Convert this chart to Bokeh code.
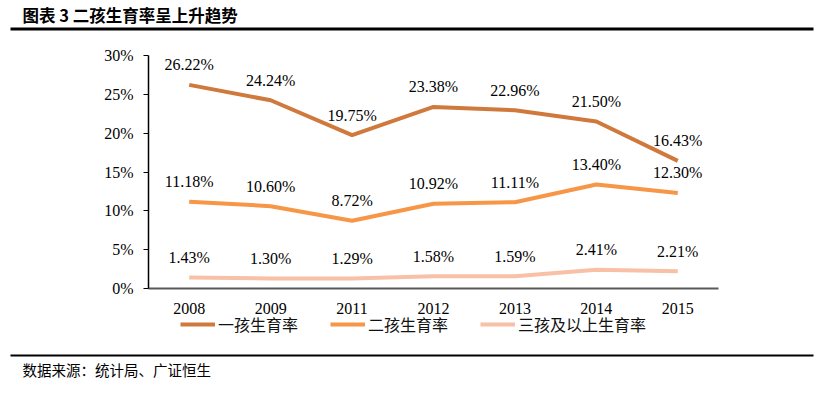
from bokeh.plotting import figure
from bokeh.models import (ColumnDataSource, Range1d, FixedTicker, LinearAxis,
                          PrintfTickFormatter, LabelSet, Label, Legend, LegendItem,
                          BoxAnnotation)
from bokeh.embed import file_html
from bokeh.resources import INLINE

years = ["2008", "2009", "2011", "2012", "2013", "2014", "2015"]
first_child = [26.22, 24.24, 19.75, 23.38, 22.96, 21.50, 16.43]
second_child = [11.18, 10.60, 8.72, 10.92, 11.11, 13.40, 12.30]
third_plus = [1.43, 1.30, 1.29, 1.58, 1.59, 2.41, 2.21]
series_names = ["一孩生育率", "二孩生育率", "三孩及以上生育率"]
colors = ["#CF7A3C", "#F79646", "#F8C0A6"]
y_ticks = [0, 5, 10, 15, 20, 25, 30]

W, H = 817, 383
idx = list(range(len(years)))

# frame covers the whole canvas; axes are pinned with fixed_location
p = figure(width=W, height=H, x_range=Range1d(-2.3175, 7.7158),
           y_range=Range1d(-12.232, 37.082), output_backend="svg",
           toolbar_location=None, x_axis_type=None, y_axis_type=None,
           min_border=0)
p.outline_line_color = None
p.xgrid.grid_line_color = None
p.ygrid.grid_line_color = None
p.background_fill_color = "white"
p.border_fill_color = "white"

yaxis = LinearAxis(fixed_location=-0.5, bounds=(0, 30),
                   ticker=FixedTicker(ticks=y_ticks),
                   formatter=PrintfTickFormatter(format="%d%%"),
                   axis_line_color="black", axis_line_width=1.5,
                   major_tick_line_color="black", major_tick_out=5, major_tick_in=0,
                   minor_tick_line_color=None, major_label_standoff=10,
                   major_label_text_font="Liberation Serif",
                   major_label_text_font_size="16px", major_label_text_color="black")
p.add_layout(yaxis, "left")

xaxis = LinearAxis(fixed_location=0, bounds=(-0.5, 6.5),
                   ticker=FixedTicker(ticks=idx),
                   major_label_overrides={i: y for i, y in zip(idx, years)},
                   axis_line_color="#595959", axis_line_width=2,
                   major_tick_line_color=None, minor_tick_line_color=None,
                   major_label_standoff=9,
                   major_label_text_font="Liberation Serif",
                   major_label_text_font_size="16px", major_label_text_color="black")
p.add_layout(xaxis, "below")

renderers = []
for vals, c in zip([first_child, second_child, third_plus], colors):
    src = ColumnDataSource(dict(x=idx, y=vals, t=["%.2f%%" % v for v in vals]))
    r = p.line("x", "y", source=src, line_color=c, line_width=4)
    renderers.append(r)
    p.add_layout(LabelSet(x="x", y="y", text="t", source=src, y_offset=20,
                          text_align="center", text_baseline="middle",
                          text_font="Liberation Serif", text_font_size="16px",
                          text_color="black"))

legend = Legend(items=[LegendItem(label=n, renderers=[r]) for n, r in zip(series_names, renderers)],
                orientation="horizontal", location=(180, 47),
                glyph_width=35, glyph_height=16, label_standoff=3, spacing=32,
                padding=0, margin=0, border_line_color=None, background_fill_alpha=0,
                label_text_font="Noto Sans CJK SC", label_text_font_size="16px",
                label_text_color="#111111", label_height=16)
p.add_layout(legend, "center")

# title, rules and source (screen units: from frame bottom-left, frame == canvas)
p.add_layout(Label(x=22, y=H - 14, x_units="screen", y_units="screen",
                   text="图表 3 二孩生育率呈上升趋势", text_font="Noto Sans CJK SC",
                   text_font_size="16.5px", text_font_style="bold", text_color="black",
                   text_baseline="middle"))
p.add_layout(BoxAnnotation(left=10, right=813, top=H - 27, bottom=H - 30,
                           left_units="screen", right_units="screen",
                           top_units="screen", bottom_units="screen",
                           fill_color="black", fill_alpha=1, line_color=None))
p.add_layout(BoxAnnotation(left=10, right=813, top=H - 354, bottom=H - 356,
                           left_units="screen", right_units="screen",
                           top_units="screen", bottom_units="screen",
                           fill_color="black", fill_alpha=1, line_color=None))
p.add_layout(Label(x=22, y=H - 369, x_units="screen", y_units="screen",
                   text="数据来源：统计局、广证恒生", text_font="Noto Sans CJK SC",
                   text_font_size="14.5px", text_color="black", text_baseline="middle"))

open("out.html", "w").write(file_html(p, INLINE))
